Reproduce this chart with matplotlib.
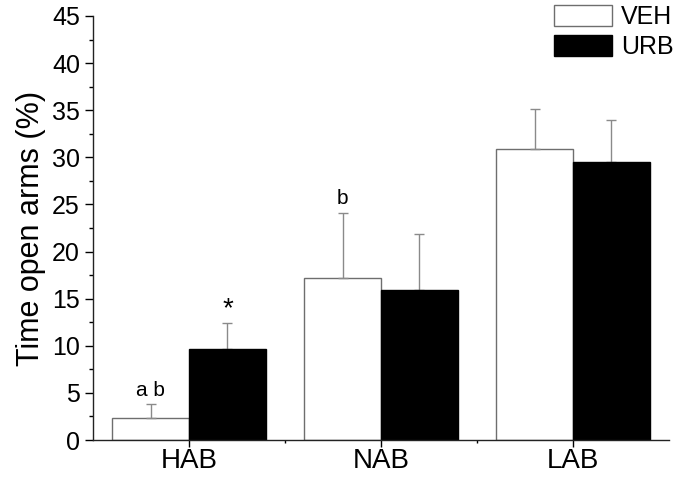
import numpy as np
import matplotlib
matplotlib.use('Agg')
import matplotlib.pyplot as plt
from matplotlib.ticker import MultipleLocator, FixedLocator

plt.rcParams['font.family'] = ['Liberation Sans', 'DejaVu Sans']

groups = ['HAB', 'NAB', 'LAB']
veh = [2.3, 17.2, 30.9]
veh_err = [1.5, 6.9, 4.2]
urb = [9.7, 15.9, 29.5]
urb_err = [2.7, 6.0, 4.5]
labels_veh = ['a b', 'b', '']
labels_urb = ['*', '', '']

fig = plt.figure(figsize=(6.75, 4.8), dpi=100)
ax = fig.add_axes([0.138, 0.0833, 0.853, 0.8834])

x = np.arange(len(groups))
w = 0.4
ax.bar(x - w/2, veh, w, color='white', edgecolor='#6e6e6e', linewidth=1.0,
       label='VEH', zorder=2)
ax.bar(x + w/2, urb, w, color='black', edgecolor='black', linewidth=1.0,
       label='URB', zorder=2)
ax.errorbar(x - w/2, veh, yerr=[np.zeros(3), veh_err], fmt='none',
            ecolor='#8a8a8a', elinewidth=1.0, capsize=3.5, capthick=1.0, zorder=3)
ax.errorbar(x + w/2, urb, yerr=[np.zeros(3), urb_err], fmt='none',
            ecolor='#8a8a8a', elinewidth=1.0, capsize=3.5, capthick=1.0, zorder=1)

# significance marks
for xi, v, e, t in zip(x - w/2, veh, veh_err, labels_veh):
    if t:
        ax.text(xi, v + e + 0.9, t, ha='center', va='baseline', fontsize=15)
for xi, v, e, t in zip(x + w/2, urb, urb_err, labels_urb):
    if t:
        ax.text(xi, v + e + 0.1, t, ha='center', va='bottom', fontsize=20)

ax.set_xlim(-0.5, 2.5)
ax.set_ylim(0, 45)
ax.set_xticks(x)
ax.set_xticklabels(groups, fontsize=20)
ax.xaxis.set_minor_locator(FixedLocator([0.5, 1.5]))
ax.yaxis.set_major_locator(MultipleLocator(5))
ax.yaxis.set_minor_locator(MultipleLocator(2.5))
ax.tick_params(axis='y', which='major', labelsize=18, length=5.5, width=1, direction='out', pad=4)
ax.tick_params(axis='y', which='minor', length=3, width=1, direction='out')
ax.tick_params(axis='x', which='major', length=5, width=1, direction='out', pad=0.5)
ax.tick_params(axis='x', which='minor', length=2.5, width=1, direction='out')
ax.set_ylabel('Time open arms (%)', fontsize=22, labelpad=4)

for s in ['top', 'right']:
    ax.spines[s].set_visible(False)
for s in ['left', 'bottom']:
    ax.spines[s].set_linewidth(1.0)
    ax.spines[s].set_color('#222222')

ax.legend(loc='upper right', bbox_to_anchor=(1.005, 1.0), bbox_transform=fig.transFigure,
          frameon=False, fontsize=18, handlelength=2.3, handleheight=0.9,
          handletextpad=0.35, labelspacing=0.25, borderpad=0.1, borderaxespad=0.1)

fig.savefig('out.png', dpi=100)
